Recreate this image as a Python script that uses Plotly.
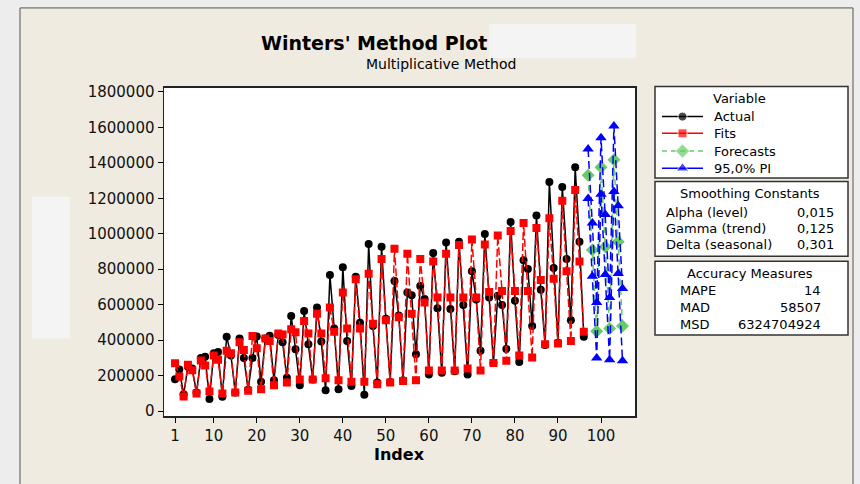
import plotly.graph_objects as go

W, H = 860, 484

# ---------------- data ----------------
index_actual = list(range(1, 97))
actual = [180000, 235000, 95000, 250000, 240000, 105000, 300000, 307000, 68000, 327000,
          333000, 81000, 420000, 314000, 105000, 410000, 299000, 120000, 300000, 421000,
          166000, 410000, 425000, 174000, 429000, 388000, 188000, 536000, 349000, 146000,
          564000, 377000, 179000, 584000, 392000, 118000, 767000, 466000, 124000, 811000,
          395000, 142000, 758000, 499000, 92000, 942000, 480000, 161000, 927000, 521000,
          165000, 733000, 539000, 174000, 669000, 654000, 321000, 706000, 632000, 207000,
          891000, 580000, 216000, 950000, 576000, 225000, 955000, 599000, 207000, 789000,
          630000, 340000, 998000, 641000, 272000, 650000, 599000, 351000, 1066000, 623000,
          277000, 850000, 802000, 480000, 1103000, 684000, 373000, 1292000, 807000, 385000,
          1264000, 857000, 512000, 1375000, 955000, 420000]
fits = [270000, 196000, 83000, 262000, 230000, 100000, 286000, 257000, 111000, 314000,
        290000, 100000, 340000, 327000, 105000, 388000, 345000, 115000, 423000, 355000,
        124000, 410000, 395000, 146000, 438000, 432000, 161000, 462000, 445000, 179000,
        508000, 438000, 179000, 549000, 438000, 185000, 584000, 447000, 174000, 669000,
        466000, 166000, 743000, 466000, 166000, 774000, 492000, 152000, 857000, 512000,
        161000, 915000, 530000, 170000, 887000, 549000, 174000, 857000, 613000, 229000,
        844000, 641000, 229000, 887000, 641000, 229000, 937000, 641000, 240000, 968000,
        641000, 229000, 940000, 672000, 272000, 990000, 678000, 284000, 1016000, 678000,
        314000, 1061000, 678000, 303000, 1033000, 739000, 377000, 1088000, 746000, 382000,
        1186000, 789000, 395000, 1247000, 844000, 447000]
index_forecast = list(range(97, 106))
forecasts = [1330000, 909000, 451000, 1375000, 927000, 466000, 1417000, 955000, 480000]
upper_pi = [1478000, 1060000, 613000, 1541000, 1109000, 641000, 1607000, 1158000, 691000]
lower_pi = [1199000, 761000, 299000, 1223000, 770000, 290000, 1238000, 776000, 284000]

x_tick_vals = [1, 10, 20, 30, 40, 50, 60, 70, 80, 90, 100]
y_tick_vals = list(range(0, 1800001, 200000))

legend_names = ["Actual", "Fits", "Forecasts", "95,0% PI"]
smoothing_labels = ["Alpha (level)", "Gamma (trend)", "Delta (seasonal)"]
smoothing_values = ["0,015", "0,125", "0,301"]
accuracy_labels = ["MAPE", "MAD", "MSD"]
accuracy_values = ["14", "58507", "6324704924"]

# ---------------- helpers ----------------
def px(x):
    return x / W

def py(y):
    return 1 - y / H

FONT = "DejaVu Sans"
PL, PR, PT, PB = 164, 635, 85, 419.3

BLACK = "#000000"
RED = "#ff0000"
GREEN = "#66cc66"
BLUE = "#0000ff"

fig = go.Figure()

fig.add_trace(go.Scatter(x=index_actual, y=actual, mode="lines+markers", name="Actual",
                         line=dict(color=BLACK, width=1.5),
                         marker=dict(symbol="circle", size=8, color=BLACK)))
fig.add_trace(go.Scatter(x=index_actual, y=fits, mode="lines+markers", name="Fits",
                         line=dict(color=RED, width=1.5, dash="8px,3px"),
                         marker=dict(symbol="square", size=8, color=RED)))
fig.add_trace(go.Scatter(x=index_forecast, y=forecasts, mode="lines+markers", name="Forecasts",
                         line=dict(color=GREEN, width=1.5, dash="6px,4px"),
                         marker=dict(symbol="diamond", size=10, color=GREEN)))
fig.add_trace(go.Scatter(x=index_forecast, y=upper_pi, mode="lines+markers", name="95,0% PI",
                         line=dict(color=BLUE, width=1.5, dash="8px,4px"),
                         marker=dict(symbol="triangle-up", size=10, color=BLUE)))
fig.add_trace(go.Scatter(x=index_forecast, y=lower_pi, mode="lines+markers", name="95,0% PI lower",
                         line=dict(color=BLUE, width=1.5, dash="8px,4px"),
                         marker=dict(symbol="triangle-up", size=10, color=BLUE)))

# legend keys drawn on a hidden pixel-space axis
leg_y = [114.5, 131.5, 149.5, 167]
leg_styles = [
    (BLACK, "solid", "circle", 9),
    (RED, "solid", "square", 9),
    (GREEN, "5px,4px", "diamond", 11),
    (BLUE, "solid", "triangle-up", 11),
]
for name, yy, (c, d, s, sz) in zip(legend_names, leg_y, leg_styles):
    fig.add_trace(go.Scatter(x=[662, 682.5, 703], y=[yy, yy, yy], mode="lines+markers",
                             xaxis="x2", yaxis="y2", showlegend=False, hoverinfo="skip",
                             line=dict(color=c, width=1.5, dash=d),
                             marker=dict(symbol=s, size=[0, sz, 0], color=c)))

shapes = []
# beige panel
shapes.append(dict(type="rect", xref="paper", yref="paper", x0=px(20), x1=px(853), y0=py(490), y1=py(4),
                   fillcolor="#efebe1", line=dict(color="#555555", width=1), layer="below"))
# plot area background
shapes.append(dict(type="rect", xref="paper", yref="paper", x0=px(PL), x1=px(PR), y0=py(PB), y1=py(PT),
                   fillcolor="#ffffff", line=dict(width=0), layer="below"))
# info boxes
for (y0, y1) in [(84, 177), (180.5, 256.5), (261.5, 336.5)]:
    shapes.append(dict(type="rect", xref="paper", yref="paper", x0=px(655), x1=px(848), y0=py(y1), y1=py(y0),
                       fillcolor="#ffffff", line=dict(color="#333333", width=1.5), layer="below"))
# redaction boxes
shapes.append(dict(type="rect", xref="paper", yref="paper", x0=px(489), x1=px(636), y0=py(55), y1=py(20),
                   fillcolor="#f4f4f4", line=dict(width=0), layer="above"))
shapes.append(dict(type="rect", xref="paper", yref="paper", x0=px(32), x1=px(70), y0=py(340), y1=py(196),
                   fillcolor="#f4f4f4", line=dict(width=0), layer="above"))

ann = []
def text(x, y, s, size=13, anchor="left", bold=False):
    ann.append(dict(x=px(x), y=py(y), xref="paper", yref="paper", text=(f"<b>{s}</b>" if bold else s),
                    showarrow=False, xanchor=anchor, yanchor="middle",
                    font=dict(family=FONT, size=size, color="#000000")))

text(374, 40, "Winters' Method Plot", size=19, anchor="center", bold=True)
text(441, 61, "Multiplicative Method", size=14, anchor="center")
text(399, 458, "Index", size=16, anchor="center", bold=True)

text(739, 96, "Variable", size=13, anchor="center")
for name, yy in zip(legend_names, leg_y):
    text(712, yy, name, size=13)

text(750, 193, "Smoothing Constants", size=13, anchor="center")
for i, (lab, val) in enumerate(zip(smoothing_labels, smoothing_values)):
    yy = 211.5 + i * 16.7
    text(664, yy, lab, size=13)
    text(836, yy, val, size=13, anchor="right")

text(750, 274, "Accuracy Measures", size=13, anchor="center")
for i, (lab, val) in enumerate(zip(accuracy_labels, accuracy_values)):
    yy = 291 + i * 17.5
    text(678, yy, lab, size=13)
    text(823, yy, val, size=13, anchor="right")

fig.update_layout(
    width=W, height=H,
    margin=dict(l=0, r=0, t=0, b=0),
    paper_bgcolor="#ededed",
    plot_bgcolor="rgba(0,0,0,0)",
    showlegend=False,
    hovermode=False,
    shapes=shapes,
    annotations=ann,
    xaxis=dict(domain=[px(PL), px(PR)], range=[-1.56, 107.9], tickvals=x_tick_vals,
               ticks="outside", ticklen=5, tickwidth=1, tickcolor="#000",
               showline=True, mirror=True, linecolor="#222", linewidth=1.5,
               showgrid=False, zeroline=False,
               tickfont=dict(family=FONT, size=15, color="#111")),
    yaxis=dict(domain=[py(PB), py(PT)], range=[-29400, 1823800], tickvals=y_tick_vals,
               tickformat="d",
               ticks="outside", ticklen=5, tickwidth=1, tickcolor="#000",
               showline=True, mirror=True, linecolor="#222", linewidth=1.5,
               showgrid=False, zeroline=False,
               tickfont=dict(family=FONT, size=15, color="#111")),
    xaxis2=dict(domain=[0, 1], range=[0, W], visible=False, anchor="y2"),
    yaxis2=dict(domain=[0, 1], range=[H, 0], visible=False, anchor="x2"),
)

page_css = ("var d=document.documentElement,b=document.body;"
            "d.style.margin='0';d.style.overflow='hidden';d.style.height='484px';"
            "b.style.margin='0';b.style.padding='0';b.style.overflow='hidden';"
            "b.style.height='484px';b.style.lineHeight='0';b.style.fontSize='0';")

fig.write_html("out.html",
               config={"displayModeBar": False, "staticPlot": True},
               post_script=page_css)
